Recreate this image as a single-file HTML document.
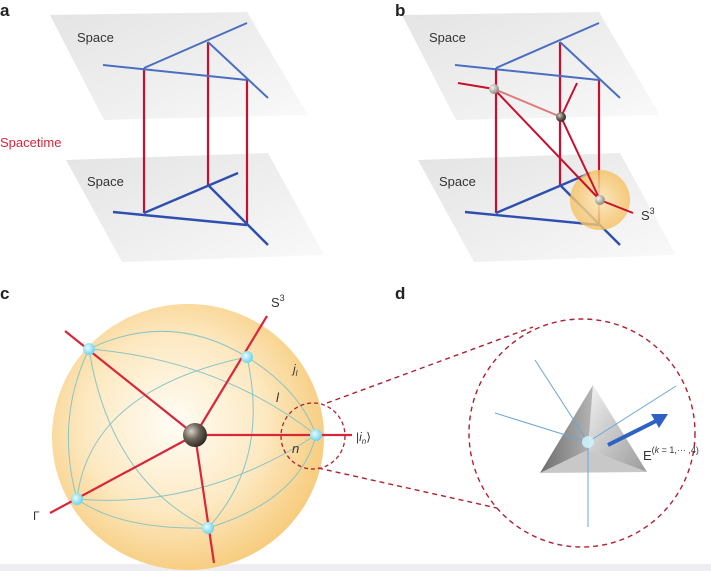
<!DOCTYPE html>
<html><head><meta charset="utf-8"><style>
html,body{margin:0;padding:0;background:#fff;}
svg{display:block;font-family:"Liberation Sans",sans-serif;}
</style></head><body>
<svg width="711" height="571" viewBox="0 0 711 571" xmlns="http://www.w3.org/2000/svg">
<defs>
<linearGradient id="pl" x1="0" y1="0" x2="1" y2="1">
<stop offset="0" stop-color="#e4e4e4"/><stop offset="0.6" stop-color="#f0f0f0"/><stop offset="1" stop-color="#fafafa"/></linearGradient>
<radialGradient id="sph" cx="0.45" cy="0.45" r="0.6">
<stop offset="0" stop-color="#fffdf6"/><stop offset="0.55" stop-color="#fde9c2"/><stop offset="1" stop-color="#f6c874"/></radialGradient>
<radialGradient id="sm" cx="0.5" cy="0.5" r="0.5">
<stop offset="0" stop-color="#fde8bc" stop-opacity="0.9"/><stop offset="1" stop-color="#f5c060" stop-opacity="0.8"/></radialGradient>
<radialGradient id="dk" cx="0.35" cy="0.35" r="0.7">
<stop offset="0" stop-color="#d8d2c8"/><stop offset="0.5" stop-color="#6b6258"/><stop offset="1" stop-color="#2d2620"/></radialGradient>
<radialGradient id="gb" cx="0.35" cy="0.35" r="0.7">
<stop offset="0" stop-color="#f4f4f0"/><stop offset="1" stop-color="#8a8478"/></radialGradient>
<radialGradient id="cy" cx="0.4" cy="0.4" r="0.6">
<stop offset="0" stop-color="#e8fbff"/><stop offset="1" stop-color="#6fd3ec"/></radialGradient>
<linearGradient id="t1" x1="0" y1="0" x2="1" y2="0"><stop offset="0" stop-color="#6d6d6d"/><stop offset="1" stop-color="#b5b5b5"/></linearGradient>
<linearGradient id="t2" x1="0" y1="0" x2="1" y2="1"><stop offset="0" stop-color="#f2f2f2"/><stop offset="1" stop-color="#9a9a9a"/></linearGradient>
</defs>
<rect width="711" height="571" fill="#fff"/>
<rect x="0" y="564" width="711" height="7" fill="#eeeef2"/>

<!-- Panel a -->
<g id="pa">
<polygon points="50,15 247,12 308,115 104,120" fill="url(#pl)"/>
<polygon points="66,160 268,153 324,255 122,262" fill="url(#pl)"/>
<g stroke="#c8102e" stroke-width="2.2">
<line x1="144" y1="68" x2="144" y2="213"/><line x1="208" y1="42" x2="208" y2="185"/><line x1="247" y1="79" x2="247" y2="225"/></g>
<g stroke="#4a6fc0" stroke-width="2">
<line x1="103" y1="65" x2="247" y2="80"/><line x1="144" y1="68" x2="247" y2="23"/><line x1="208" y1="42" x2="268" y2="98"/></g>
<g stroke="#2f4fb0" stroke-width="2.4">
<line x1="113" y1="212" x2="247" y2="225"/><line x1="144" y1="213" x2="238" y2="173"/><line x1="208" y1="185" x2="268" y2="245"/></g>
<text x="77" y="42" font-size="13" fill="#333">Space</text>
<text x="87" y="186" font-size="13" fill="#333">Space</text>
</g>
<text x="0" y="147" font-size="13" fill="#d8263a">Spacetime</text>
<text x="0" y="16" font-size="17" font-weight="bold" fill="#222">a</text>

<!-- Panel b -->
<g transform="translate(352,0)">
<polygon points="50,15 247,12 308,115 104,120" fill="url(#pl)"/>
<polygon points="66,160 268,153 324,255 122,262" fill="url(#pl)"/>
<g stroke="#c8102e" stroke-width="2.2">
<line x1="144" y1="68" x2="144" y2="213"/><line x1="208" y1="42" x2="208" y2="185"/><line x1="247" y1="79" x2="247" y2="225"/></g>
<g stroke="#4a6fc0" stroke-width="2">
<line x1="103" y1="65" x2="247" y2="80"/><line x1="144" y1="68" x2="247" y2="23"/><line x1="208" y1="42" x2="268" y2="98"/></g>
<g stroke="#2f4fb0" stroke-width="2.4">
<line x1="113" y1="212" x2="247" y2="225"/><line x1="144" y1="213" x2="238" y2="173"/><line x1="208" y1="185" x2="268" y2="245"/></g>
<text x="77" y="42" font-size="13" fill="#333">Space</text>
<text x="87" y="186" font-size="13" fill="#333">Space</text>
</g>
<circle cx="600" cy="200" r="30" fill="url(#sm)"/>
<g stroke="#c8102e" stroke-width="2">
<line x1="458" y1="83" x2="494" y2="89"/>
<line x1="494" y1="89" x2="561" y2="117" stroke="#e07a7a"/>
<line x1="561" y1="117" x2="577" y2="83"/>
<line x1="494" y1="89" x2="600" y2="200"/>
<line x1="561" y1="117" x2="600" y2="200"/>
<line x1="600" y1="200" x2="633" y2="213"/></g>
<circle cx="494" cy="89" r="5" fill="url(#gb)"/>
<circle cx="561" cy="117" r="5" fill="url(#dk)"/>
<circle cx="600" cy="200" r="5" fill="url(#gb)"/>
<text x="641" y="220" font-size="13" fill="#333">S<tspan font-size="9" dy="-6">3</tspan></text>
<text x="395" y="16" font-size="17" font-weight="bold" fill="#222">b</text>

<!-- Panel c -->
<text x="0" y="299" font-size="17" font-weight="bold" fill="#222">c</text>
<ellipse cx="188" cy="437" rx="136" ry="133" fill="url(#sph)"/>
<g fill="none" stroke="#8cc4c4" stroke-width="1">
<path d="M89,349 Q170,310 247,357"/>
<path d="M247,357 Q300,390 316,435"/>
<path d="M316,435 Q300,500 208,528"/>
<path d="M208,528 Q120,530 77,499"/>
<path d="M77,499 Q55,420 89,349"/>
<path d="M89,349 Q220,360 316,435"/>
<path d="M89,349 Q110,480 208,528"/>
<path d="M247,357 Q90,390 77,499"/>
<path d="M247,357 Q270,460 208,528"/>
<path d="M77,499 Q200,510 316,435"/>
</g>
<g stroke="#d8263a" stroke-width="2.2">
<line x1="65" y1="331" x2="195" y2="435"/>
<line x1="267" y1="316" x2="195" y2="435"/>
<line x1="352" y1="435" x2="195" y2="435"/>
<line x1="50" y1="513" x2="195" y2="435"/>
<line x1="214" y1="563" x2="195" y2="435"/></g>
<circle cx="195" cy="435" r="12" fill="url(#dk)"/>
<g fill="url(#cy)">
<circle cx="89" cy="349" r="6"/><circle cx="247" cy="357" r="6"/><circle cx="316" cy="435" r="6"/><circle cx="77" cy="499" r="6"/><circle cx="208" cy="528" r="6"/></g>
<ellipse cx="313" cy="436" rx="32" ry="33" fill="none" stroke="#b02030" stroke-width="1.3" stroke-dasharray="4,3"/>
<text x="271" y="307" font-size="13" fill="#333">S<tspan font-size="9" dy="-6">3</tspan></text>
<text x="293" y="373" font-size="12" font-style="italic" fill="#333">j<tspan font-size="8" dy="3">l</tspan></text>
<text x="276" y="402" font-size="13" font-style="italic" fill="#333">l</text>
<text x="292" y="453" font-size="13" font-style="italic" fill="#333">n</text>
<text x="356" y="441" font-size="12" fill="#333">|<tspan font-style="italic">i</tspan><tspan font-size="8" dy="3" font-style="italic">n</tspan><tspan dy="-3">⟩</tspan></text>
<text x="33" y="520" font-size="12" fill="#333">Γ</text>

<!-- Panel d -->
<text x="395" y="299" font-size="17" font-weight="bold" fill="#222">d</text>
<g stroke="#b02030" stroke-width="1.4" stroke-dasharray="5,4" fill="none">
<line x1="327" y1="403" x2="533" y2="327"/>
<line x1="318" y1="468" x2="497" y2="508"/>
<ellipse cx="582" cy="433" rx="113" ry="114"/></g>
<polygon points="593,385 540,473 588,450" fill="url(#t1)"/>
<polygon points="593,385 647,472 588,450" fill="url(#t2)"/>
<polygon points="540,473 647,472 588,450" fill="#c8c8c8"/>
<g stroke="#6aa6d8" stroke-width="1" fill="none">
<line x1="588" y1="442" x2="535" y2="360"/>
<line x1="588" y1="442" x2="495" y2="413"/>
<line x1="588" y1="442" x2="676" y2="386"/>
<line x1="588" y1="442" x2="588" y2="527"/></g>
<circle cx="588" cy="442" r="6" fill="#cdf2fb" opacity="0.9"/>
<line x1="608" y1="445" x2="658" y2="420" stroke="#2d62c4" stroke-width="4"/>
<polygon points="668,414 651,414 659,428" fill="#2d62c4"/>
<text x="643" y="460" font-size="13" fill="#333">E<tspan font-size="9" dy="-7">(<tspan font-style="italic">k</tspan> = 1,··· ,4)</tspan></text>
</svg>
</body></html>
